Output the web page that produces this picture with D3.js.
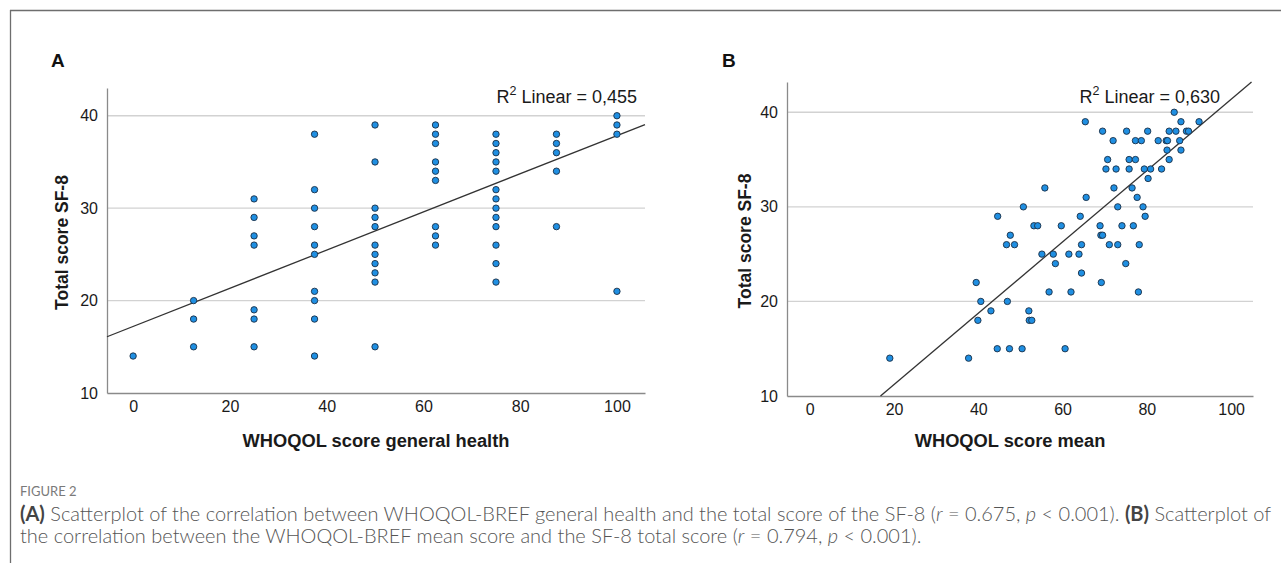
<!DOCTYPE html>
<html>
<head>
<meta charset="utf-8">
<script src="https://cdn.jsdelivr.net/npm/d3@7"></script>
<style>
  html, body { margin: 0; padding: 0; background: #fff; }
  svg { display: block; }
</style>
</head>
<body>
<svg id="fig" width="1281" height="563"></svg>
<script>
// ---- Panel A: WHOQOL general health (discrete steps) vs SF-8 total ----
const healthSteps = [0, 12.5, 25, 37.5, 50, 62.5, 75, 87.5, 100];
const sf8ByHealth = [
  [14],
  [20, 18, 15],
  [31, 29, 27, 26, 19, 18, 15],
  [38, 32, 30, 28, 26, 25, 21, 20, 18, 14],
  [39, 35, 30, 29, 28, 26, 25, 24, 23, 22, 15],
  [39, 38, 37, 35, 34, 33, 28, 27, 26],
  [38, 37, 36, 35, 34, 32, 31, 30, 29, 28, 26, 24, 22],
  [38, 37, 36, 34, 28],
  [40, 39, 38, 21]
];
const fitA = { intercept: 17.2, slope: 0.2065 };
const r2A = "0,455";

// ---- Panel B: WHOQOL mean score vs SF-8 total (grouped by SF-8 level) ----
const sf8LevelsB = [14, 15, 18, 19, 20, 21, 22, 23, 24, 25, 26, 27, 28, 29, 30, 31, 32, 33, 34, 35, 36, 37, 38, 39, 40];
const meanByLevelB = [
  [19.0, 37.7],
  [44.5, 47.4, 50.4, 60.6],
  [39.9, 52.1, 52.7],
  [43.0, 52.0],
  [40.6, 46.9],
  [56.8, 62.0, 78.0],
  [39.5, 69.2],
  [64.5],
  [58.3, 75.0],
  [55.1, 57.8, 61.5, 63.9],
  [46.7, 48.6, 64.5, 71.1, 73.1, 78.2],
  [47.6, 69.1, 69.5],
  [53.2, 54.1, 59.7, 68.9, 74.1, 76.8],
  [44.6, 64.2, 79.6],
  [50.7, 73.1, 79.1],
  [65.6, 77.7],
  [55.8, 72.2, 76.5],
  [80.3],
  [70.3, 72.7, 75.8, 79.4, 80.9, 83.5],
  [70.7, 75.8, 77.3, 85.3],
  [84.8, 88.1],
  [72.0, 77.3, 78.7, 82.7, 84.6, 84.9, 87.8],
  [69.5, 75.2, 80.2, 85.3, 86.9, 89.4, 89.9],
  [65.4, 88.1, 92.4],
  [86.5]
];
const fitB = { intercept: 3.67, slope: 0.377 };
const r2B = "0,630";

const xTicks = [0, 20, 40, 60, 80, 100];
const yTicks = [10, 20, 30, 40];

const pointsA = healthSteps.flatMap((x, i) => sf8ByHealth[i].map(y => ({ x, y })));
const pointsB = sf8LevelsB.flatMap((y, i) => meanByLevelB[i].map(x => ({ x, y })));

const svg = d3.select("#fig");
const AXIS = "#8a8a8a", GRID = "#d2d2d2", FONT = "Liberation Sans, Arial, sans-serif";

// frame lines (top + left only)
svg.append("line").attr("x1", 10).attr("x2", 1281).attr("y1", 10.5).attr("y2", 10.5)
  .attr("stroke", "#6e6e6e").attr("stroke-width", 1.3);
svg.append("line").attr("x1", 10.5).attr("x2", 10.5).attr("y1", 10).attr("y2", 563)
  .attr("stroke", "#6e6e6e").attr("stroke-width", 1.3);

function drawPanel(cfg) {
  const { x, y, points, fit, r2, r2Right, letter, letterX, xTitle, xTitleX, yTitleX } = cfg;
  const g = svg.append("g");
  const [x0, x1] = x.range();
  const [y0, yTop] = y.range();

  // gridlines
  g.selectAll("line.grid").data(yTicks.filter(t => t > 10)).join("line")
    .attr("class", "grid")
    .attr("x1", x0).attr("x2", x1)
    .attr("y1", d => y(d)).attr("y2", d => y(d))
    .attr("stroke", GRID).attr("stroke-width", 1.4);

  // axes
  g.append("g").attr("transform", `translate(${x0},0)`)
    .call(d3.axisLeft(y).tickValues(yTicks).tickSize(0).tickSizeOuter(0).tickPadding(9))
    .call(s => s.select(".domain").attr("stroke", AXIS).attr("stroke-width", 1.3))
    .call(s => s.selectAll("text").attr("fill", "#1a1a1a").attr("font-size", 16).attr("font-family", FONT));

  g.append("g").attr("transform", `translate(0,${y0})`)
    .call(d3.axisBottom(x).tickValues(xTicks).tickSize(0).tickSizeOuter(0).tickPadding(8))
    .call(s => s.select(".domain").attr("stroke", AXIS).attr("stroke-width", 1.3))
    .call(s => s.selectAll("text").attr("fill", "#1a1a1a").attr("font-size", 16).attr("font-family", FONT));

  // fit line, clipped to the plot box
  const [dx0, dx1] = x.domain();
  const [dy0, dy1] = y.domain();
  const xStart = Math.max(dx0, (dy0 - fit.intercept) / fit.slope);
  const xEnd = Math.min(dx1, (dy1 - fit.intercept) / fit.slope);
  g.append("line")
    .attr("x1", x(xStart)).attr("y1", y(fit.intercept + fit.slope * xStart))
    .attr("x2", x(xEnd)).attr("y2", y(fit.intercept + fit.slope * xEnd))
    .attr("stroke", "#333").attr("stroke-width", 1.3);

  // points
  g.selectAll("circle").data(points).join("circle")
    .attr("cx", d => x(d.x)).attr("cy", d => y(d.y))
    .attr("r", 3.2)
    .attr("fill", "#1f8fe2")
    .attr("stroke", "#1b2f45").attr("stroke-width", 0.9);

  // R² label
  const t = g.append("text")
    .attr("x", r2Right).attr("y", 103)
    .attr("text-anchor", "end")
    .attr("font-family", FONT).attr("font-size", 18).attr("fill", "#1a1a1a");
  t.append("tspan").text("R");
  t.append("tspan").attr("dy", -8).attr("font-size", 12.5).text("2");
  t.append("tspan").attr("dy", 8).text(` Linear = ${r2}`);

  // titles
  g.append("text").attr("x", xTitleX).attr("y", 447)
    .attr("text-anchor", "middle").attr("font-family", FONT)
    .attr("font-weight", "bold").attr("font-size", 18.3).attr("fill", "#1a1a1a")
    .text(xTitle);
  g.append("text")
    .attr("transform", `translate(${yTitleX},${(y0 + yTop) / 2 + 2}) rotate(-90)`)
    .attr("text-anchor", "middle").attr("font-family", FONT)
    .attr("font-weight", "bold").attr("font-size", 17.5).attr("fill", "#1a1a1a")
    .text("Total score SF-8");

  // panel letter
  g.append("text").attr("x", letterX).attr("y", 67)
    .attr("font-family", FONT).attr("font-weight", "bold").attr("font-size", 19).attr("fill", "#111")
    .text(letter);
}

drawPanel({
  x: d3.scaleLinear().domain([-5.4, 105.8]).range([107, 645]),
  y: d3.scaleLinear().domain([10, 43]).range([393, 88]),
  points: pointsA, fit: fitA, r2: r2A, r2Right: 637,
  letter: "A", letterX: 51,
  xTitle: "WHOQOL score general health", xTitleX: 376, yTitleX: 68
});

drawPanel({
  x: d3.scaleLinear().domain([-5.4, 105.2]).range([787, 1253]),
  y: d3.scaleLinear().domain([10, 43.2]).range([396, 82]),
  points: pointsB, fit: fitB, r2: r2B, r2Right: 1220,
  letter: "B", letterX: 722,
  xTitle: "WHOQOL score mean", xTitleX: 1010, yTitleX: 751
});

// ---- caption ----
const CAP = "Lato, Open Sans, sans-serif";
svg.append("text").attr("x", 20).attr("y", 496)
  .attr("font-family", CAP).attr("font-size", 13).attr("fill", "#7a7a7a")
  .text("FIGURE 2");

function capLine(yPos, parts) {
  const t = svg.append("text").attr("x", 20).attr("y", yPos)
    .attr("font-family", CAP).attr("font-weight", 300).attr("font-size", 17).attr("fill", "#555");
  parts.forEach(p => {
    const s = t.append("tspan").text(p.t);
    if (p.b) s.attr("font-weight", "bold").attr("fill", "#444");
    if (p.i) s.attr("font-style", "italic");
  });
  return t;
}
const l1 = capLine(521, [
  { t: "(A)", b: true },
  { t: " Scatterplot of the correlation between WHOQOL-BREF general health and the total score of the SF-8 (" },
  { t: "r", i: true }, { t: " = 0.675, " }, { t: "p", i: true }, { t: " < 0.001). " },
  { t: "(B)", b: true }, { t: " Scatterplot of" }
]);
const l2 = capLine(543, [
  { t: "the correlation between the WHOQOL-BREF mean score and the SF-8 total score (" },
  { t: "r", i: true }, { t: " = 0.794, " }, { t: "p", i: true }, { t: " < 0.001)." }
]);
const w1 = l1.node().getComputedTextLength();
const fs = 17 * 1252 / w1;
l1.attr("font-size", fs);
l2.attr("font-size", fs);
</script>
</body>
</html>
